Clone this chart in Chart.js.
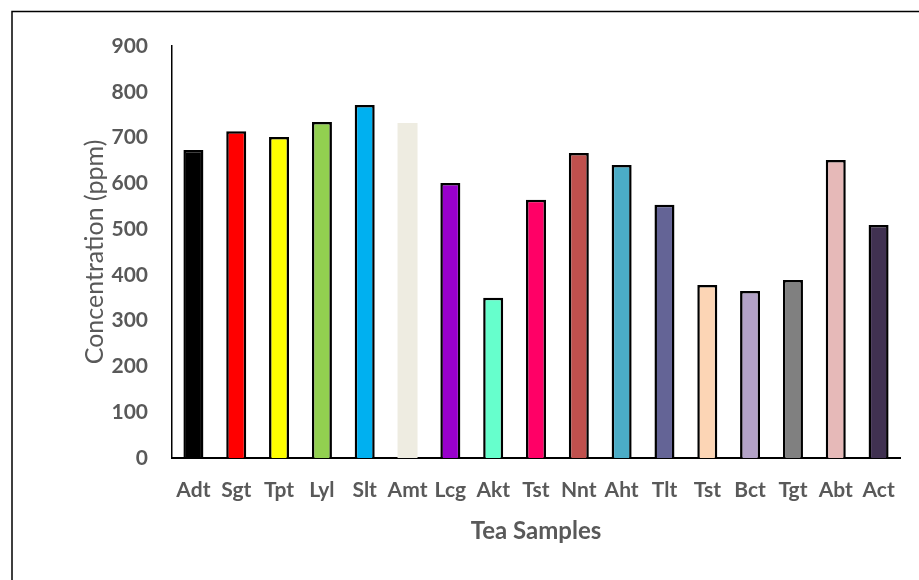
<!DOCTYPE html>
<html>
<head>
<meta charset="utf-8">
<script src="https://cdn.jsdelivr.net/npm/chart.js@4"></script>
<style>
  body { margin: 0; background: #fff; }
  #wrap { width: 919px; height: 580px; }
</style>
</head>
<body>
<div id="wrap"><canvas id="myChart" width="919" height="580"></canvas></div>
<script>
const labels = ['Adt', 'Sgt', 'Tpt', 'Lyl', 'Slt', 'Amt', 'Lcg', 'Akt', 'Tst', 'Nnt', 'Aht', 'Tlt', 'Tst', 'Bct', 'Tgt', 'Abt', 'Act']
const values = [673, 714, 701, 734, 771, 732, 601, 350, 564, 666, 640, 553, 378, 365, 389, 651, 509]
const colors = ['#000000', '#ff0000', '#ffff00', '#92d050', '#00b0f0', '#eeece1', '#9900cc', '#66ffcc', '#ff0066',
    '#c0504d', '#4bacc6', '#646496', '#fcd5b5', '#b3a2c7', '#808080', '#e6b9b8', '#403151']
const borders = [2.5, 2.5, 2.5, 2.5, 2.5, 0, 2.5, 2.5, 2.5, 2.5, 2.5, 2.5, 2.5, 2.5, 2.5, 2.5, 2.5]

const grey = '#595959'

// outer frame (only left and top edges are inside the picture)
const framePlugin = {
    id: 'frame',
    beforeDraw: (chart) => {
        const ctx = chart.ctx
        ctx.save()
        ctx.strokeStyle = '#000'
        ctx.lineWidth = 1.5
        ctx.beginPath()
        ctx.moveTo(12, 580)
        ctx.lineTo(12, 11.5)
        ctx.lineTo(919, 11.5)
        ctx.stroke()
        ctx.restore()
    }
}

const dataConfig = {
    labels: labels,
    datasets: [{
        data: values,
        backgroundColor: colors,
        borderColor: '#000000',
        borderWidth: borders,
        barPercentage: 0.467,
        categoryPercentage: 1
    }]
}

const config = {
    type: 'bar',
    data: dataConfig,
    plugins: [framePlugin],
    options: {
        responsive: false,
        animation: false,
        layout: { padding: { left: 76, top: 46, right: 19, bottom: 30 } },
        plugins: { legend: { display: false }, tooltip: { enabled: false } },
        scales: {
            x: {
                grid: { display: false },
                border: { display: true, color: '#000', width: 2 },
                ticks: { color: grey, font: { family: 'Lato', size: 21, weight: 'bold' }, padding: 12, maxRotation: 0, autoSkip: false },
                title: { display: true, text: 'Tea Samples', color: grey, font: { family: 'Lato', size: 24, weight: 'bold' }, padding: { top: 2 } },
                afterFit: (scale) => { scale.height = 92 }
            },
            y: {
                min: 0,
                max: 900,
                grid: { display: false },
                border: { display: true, color: '#000', width: 1.5 },
                ticks: { stepSize: 100, color: grey, font: { family: 'Lato', size: 21, weight: 'bold' }, padding: 16 },
                title: { display: true, text: 'Concentration (ppm)', color: grey, font: { family: 'Lato', size: 25 }, padding: 4 },
                afterFit: (scale) => { scale.width = 96 }
            }
        }
    }
}

const myChart = new Chart(document.getElementById('myChart'), config)
</script>
</body>
</html>
